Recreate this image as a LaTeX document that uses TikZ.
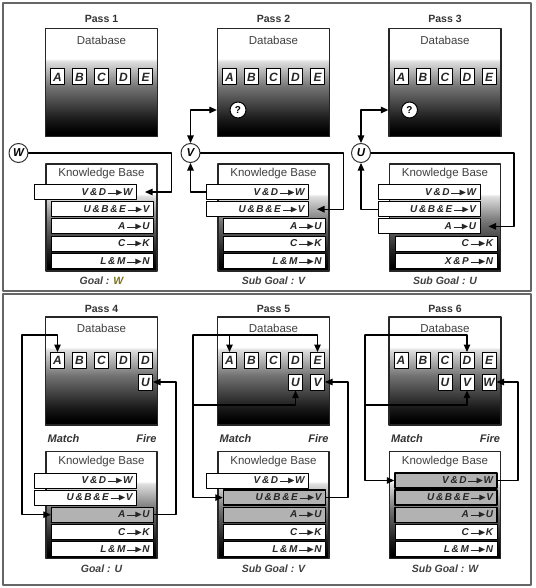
\documentclass[tikz,border=0pt]{standalone}
\usepackage{fontspec}
\usepackage{amssymb}
\setmainfont{Liberation Sans}
\usetikzlibrary{arrows.meta}

\pgfdeclareverticalshading{boxfade}{100bp}{color(0bp)=(black); color(27bp)=(black); color(33bp)=(black!90); color(48bp)=(black!55); color(60bp)=(black!12); color(61bp)=(white); color(100bp)=(white)}

\newcommand{\kbarrow}{\,\rule[0.3ex]{0.85em}{1pt}\kern-0.1em$\blacktriangleright$}

\tikzset{
  panel/.style={draw=black!60, line width=1.4pt},
  fadebox/.style={draw=black!85, line width=1.3pt, shading=boxfade, inner sep=0pt},
  dbbox/.style={fadebox, minimum width=112pt, minimum height=108pt},
  kbbox/.style={fadebox, minimum width=111pt, minimum height=107pt},
  item/.style={draw=black, fill=white, line width=1pt, minimum width=14pt, minimum height=16pt, inner sep=0pt, font=\bfseries\itshape\fontsize{12}{12}\selectfont, text=black!85},
  kbrule/.style={draw=black, fill=white, line width=1pt, text width=94pt, align=right, inner xsep=4pt, inner ysep=0pt, minimum height=15pt, font=\bfseries\itshape\fontsize{10}{10}\selectfont, text=black!85},
  kbpicked/.style={kbrule, xshift=-17pt},
  kbfired/.style={kbrule, fill=black!30, line width=1.4pt},
  goalmark/.style={circle, draw=black!80, fill=white, line width=1pt, minimum size=19pt, inner sep=0pt, font=\bfseries\itshape\fontsize{11.5}{11.5}\selectfont},
  askmark/.style={circle, draw=black, fill=white, line width=1pt, minimum size=16pt, inner sep=0pt, font=\bfseries\fontsize{10}{10}\selectfont},
  passlabel/.style={font=\bfseries\fontsize{10.5}{12}\selectfont, text=black!80},
  boxtitle/.style={font=\fontsize{11.5}{12}\selectfont, text=black!75},
  goallabel/.style={font=\bfseries\itshape\fontsize{10.5}{12}\selectfont, text=black!75},
  stage/.style={font=\bfseries\itshape\fontsize{11}{12}\selectfont, text=black!80},
  link/.style={line width=1.2pt},
}

\begin{document}
\begin{tikzpicture}[x=1pt, y=-1pt, >={Stealth[length=7.5pt, width=6.5pt, inset=0pt]}, line cap=round, line join=round]
  \useasboundingbox (0,0) rectangle (535,588);
  % Frames
  \draw[panel] (3,3) rectangle (531,291);
  \draw[panel] (3,294) rectangle (531,585);

  % Pass 1
  \node[dbbox] (db1) at (101.5,82.5) {};
  \node[passlabel] (p1) at (101.5,19) {Pass 1};
  \node[boxtitle] (dt1) at (101.5,40) {Database};
  \foreach \l [count=\i] in {A,B,C,D,E}
    \node[item] (d1\i) at ({101.5+22*(\i-3)},77) {\l};
  \node[kbbox] (kb1) at (101.5,217.5) {};
  \node[boxtitle] (kt1) at (101.5,174) {Knowledge Base};
  \foreach \cond/\concl/\kind [count=\k] in {V\,\&\,D/W/picked, U\,\&\,B\,\&\,E/V/rule, A/U/rule, C/K/rule, L\,\&\,M/N/rule}
    \node[kb\kind] (r1\k) at (102.5,{192+17.2*(\k-1)}) {\cond\kbarrow\concl};
  \node[goallabel] (g1) at (101.5,281) {Goal : \textcolor{olive!80!black}{W}};
  \node[goalmark] (gW) at (18.5,153) {W};
  \coordinate (t1) at (171.5,0);
  \draw[link, ->, shorten >=8pt] (gW) -| (t1 |- r11) -- (r11);

  % Pass 2
  \node[dbbox] (db2) at (273.5,82.5) {};
  \node[passlabel] (p2) at (273.5,19) {Pass 2};
  \node[boxtitle] (dt2) at (273.5,40) {Database};
  \foreach \l [count=\i] in {A,B,C,D,E}
    \node[item] (d2\i) at ({273.5+22*(\i-3)},77) {\l};
  \node[askmark] (q2) at (238,110) {?};
  \node[kbbox] (kb2) at (273.5,217.5) {};
  \node[boxtitle] (kt2) at (273.5,174) {Knowledge Base};
  \foreach \cond/\concl/\kind [count=\k] in {V\,\&\,D/W/picked, U\,\&\,B\,\&\,E/V/picked, A/U/rule, C/K/rule, L\,\&\,M/N/rule}
    \node[kb\kind] (r2\k) at (274.5,{192+17.2*(\k-1)}) {\cond\kbarrow\concl};
  \node[goallabel] (g2) at (273.5,281) {Sub Goal : V};
  \node[goalmark] (gV) at (190.5,153) {V};
  \coordinate (t2) at (343.5,0);
  \draw[link, <->] (gV) |- (q2 -| db2.west);
  \draw[link, ->] (r21) -| (gV);
  \draw[link, ->, shorten >=8pt] (gV) -| (t2 |- r22) -- (r22);

  % Pass 3
  \node[dbbox] (db3) at (445,82.5) {};
  \node[passlabel] (p3) at (445,19) {Pass 3};
  \node[boxtitle] (dt3) at (445,40) {Database};
  \foreach \l [count=\i] in {A,B,C,D,E}
    \node[item] (d3\i) at ({445+22*(\i-3)},77) {\l};
  \node[askmark] (q3) at (409.5,110) {?};
  \node[kbbox] (kb3) at (445,217.5) {};
  \node[boxtitle] (kt3) at (445,174) {Knowledge Base};
  \foreach \cond/\concl/\kind [count=\k] in {V\,\&\,D/W/picked, U\,\&\,B\,\&\,E/V/picked, A/U/picked, C/K/rule, X\,\&\,P/N/rule}
    \node[kb\kind] (r3\k) at (446,{192+17.2*(\k-1)}) {\cond\kbarrow\concl};
  \node[goallabel] (g3) at (445,281) {Sub Goal : U};
  \node[goalmark] (gU) at (361,153) {U};
  \coordinate (t3) at (514,0);
  \draw[link, <->] (gU) |- (q3 -| db3.west);
  \draw[link, ->] (r32) -| (gU);
  \draw[link, ->, shorten >=8pt] (gU) -| (t3 |- r33) -- (r33);

  % Pass 4
  \node[dbbox] (db4) at (101.5,371) {};
  \node[passlabel] (p4) at (101.5,308.5) {Pass 4};
  \node[boxtitle] (dt4) at (101.5,328.5) {Database};
  \foreach \l [count=\i] in {A,B,C,D,D}
    \node[item] (d4\i) at ({101.5+22*(\i-3)},360.5) {\l};
  \node[item] (u45) at (145.5,382) {U};
  \node[stage] (ma4) at (63.5,439) {Match};
  \node[stage] (fi4) at (146.5,439) {Fire};
  \node[kbbox] (kb4) at (101.5,505) {};
  \node[boxtitle] (kt4) at (101.5,462) {Knowledge Base};
  \foreach \cond/\concl/\kind [count=\k] in {V\,\&\,D/W/picked, U\,\&\,B\,\&\,E/V/picked, A/U/fired, C/K/rule, L\,\&\,M/N/rule}
    \node[kb\kind] (r4\k) at (102.5,{480.5+17.1*(\k-1)}) {\cond\kbarrow\concl};
  \node[goallabel] (g4) at (101.5,568.5) {Goal : U};
  \coordinate (m4) at (22,335);
  \coordinate (f4) at (176,0);
  \draw[link, <->] (d41) |- (m4) |- (r43);
  \draw[link, ->] (r43) -| (f4 |- u45) -- (u45);

  % Pass 5
  \node[dbbox] (db5) at (273.5,371) {};
  \node[passlabel] (p5) at (273.5,308.5) {Pass 5};
  \node[boxtitle] (dt5) at (273.5,328.5) {Database};
  \foreach \l [count=\i] in {A,B,C,D,E}
    \node[item] (d5\i) at ({273.5+22*(\i-3)},360.5) {\l};
  \foreach \l/\i in {U/4, V/5}
    \node[item] (u5\i) at ({273.5+22*(\i-3)},382) {\l};
  \node[stage] (ma5) at (235.5,439) {Match};
  \node[stage] (fi5) at (318.5,439) {Fire};
  \node[kbbox] (kb5) at (273.5,505) {};
  \node[boxtitle] (kt5) at (273.5,462) {Knowledge Base};
  \foreach \cond/\concl/\kind [count=\k] in {V\,\&\,D/W/picked, U\,\&\,B\,\&\,E/V/fired, A/U/fired, C/K/rule, L\,\&\,M/N/rule}
    \node[kb\kind] (r5\k) at (274.5,{480.5+17.1*(\k-1)}) {\cond\kbarrow\concl};
  \node[goallabel] (g5) at (273.5,568.5) {Sub Goal : V};
  \coordinate (m5) at (193,335);
  \coordinate (n5) at (193,405);
  \coordinate (f5) at (348,0);
  \draw[link, ->] (m5) -| (d55);
  \draw[link, ->] (m5 -| d51) -- (d51);
  \draw[link, ->] (m5) |- (r52);
  \draw[link, ->] (n5) -| (u54);
  \draw[link, ->] (r52) -| (f5 |- u55) -- (u55);

  % Pass 6
  \node[dbbox] (db6) at (445,371) {};
  \node[passlabel] (p6) at (445,308.5) {Pass 6};
  \node[boxtitle] (dt6) at (445,328.5) {Database};
  \foreach \l [count=\i] in {A,B,C,D,E}
    \node[item] (d6\i) at ({445+22*(\i-3)},360.5) {\l};
  \foreach \l/\i in {U/3, V/4, W/5}
    \node[item] (u6\i) at ({445+22*(\i-3)},382) {\l};
  \node[stage] (ma6) at (407,439) {Match};
  \node[stage] (fi6) at (490,439) {Fire};
  \node[kbbox] (kb6) at (445,505) {};
  \node[boxtitle] (kt6) at (445,462) {Knowledge Base};
  \foreach \cond/\concl/\kind [count=\k] in {V\,\&\,D/W/fired, U\,\&\,B\,\&\,E/V/fired, A/U/fired, C/K/rule, L\,\&\,M/N/rule}
    \node[kb\kind] (r6\k) at (446,{480.5+17.1*(\k-1)}) {\cond\kbarrow\concl};
  \node[goallabel] (g6) at (445,568.5) {Sub Goal : W};
  \coordinate (m6) at (365,335);
  \coordinate (n6) at (365,405);
  \coordinate (f6) at (518,0);
  \draw[link, ->] (m6) -| (d64);
  \draw[link, ->] (m6) |- (r61);
  \draw[link, ->] (n6) -| (u64);
  \draw[link, ->] (r61) -| (f6 |- u65) -- (u65);
\end{tikzpicture}
\end{document}
